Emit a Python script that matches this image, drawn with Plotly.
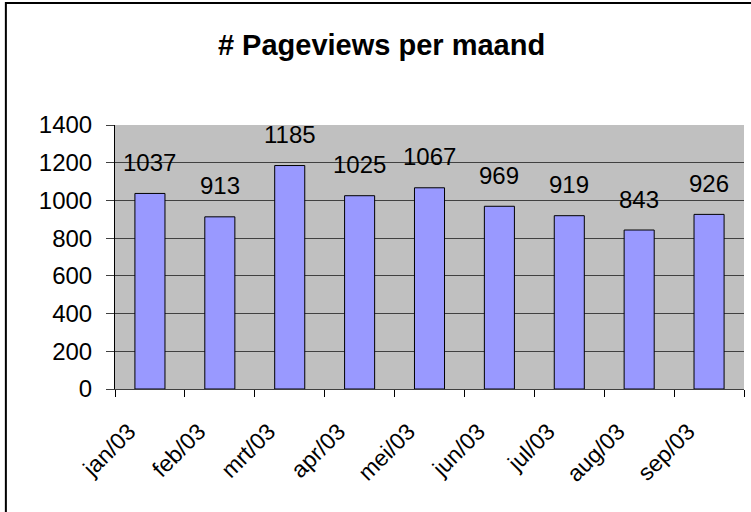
import plotly.graph_objects as go

months = ["jan/03", "feb/03", "mrt/03", "apr/03", "mei/03", "jun/03", "jul/03", "aug/03", "sep/03"]
pageviews = [1037, 913, 1185, 1025, 1067, 969, 919, 843, 926]
y_ticks = [0, 200, 400, 600, 800, 1000, 1200, 1400]

FONT = "Liberation Sans, Arial, sans-serif"

fig = go.Figure()
fig.add_trace(go.Bar(
    x=months, y=pageviews, width=0.43,
    marker=dict(color="#9999FF", line=dict(color="black", width=1)),
    hoverinfo="x+y",
))

for m, v in zip(months, pageviews):
    fig.add_annotation(x=m, y=v, text=str(v), showarrow=False,
                       yanchor="middle", yshift=31,
                       font=dict(family=FONT, size=24, color="black"))

# outer chart border (left/top visible; right/bottom run off the picture)
fig.add_shape(type="rect", xref="paper", yref="paper",
              x0=-0.1735, x1=1.2, y0=-0.8, y1=1.462,
              line=dict(color="black", width=2), fillcolor="rgba(0,0,0,0)",
              layer="below")

fig.update_layout(
    width=751, height=512,
    margin=dict(l=115, r=7, t=125, b=123, autoexpand=False),
    paper_bgcolor="white", plot_bgcolor="#C0C0C0",
    showlegend=False,
    title=dict(text="<b># Pageviews per maand</b>", x=0.508, xanchor="center",
               y=0.913, yanchor="middle",
               font=dict(family=FONT, size=29, color="black")),
    font=dict(family=FONT, color="black"),
)
fig.update_xaxes(
    type="category", tickangle=-45, tickfont=dict(size=23),
    ticks="outside", tickson="boundaries", ticklen=7, tickcolor="black",
    ticklabelstandoff=19, ticklabelshift=-21, automargin=False,
    showline=True, linecolor="#404040", linewidth=1,
    showgrid=False,
)
fig.update_yaxes(
    range=[0, 1400], tickvals=y_ticks, tickfont=dict(size=24),
    ticks="outside", ticklen=8, tickcolor="#404040",
    ticklabelstandoff=9, automargin=False,
    showline=True, linecolor="black", linewidth=1,
    showgrid=True, gridcolor="#404040", gridwidth=1, zeroline=False,
)

fig.write_html("out.html", config={"displayModeBar": False},
               post_script="document.body.style.margin='0';")
